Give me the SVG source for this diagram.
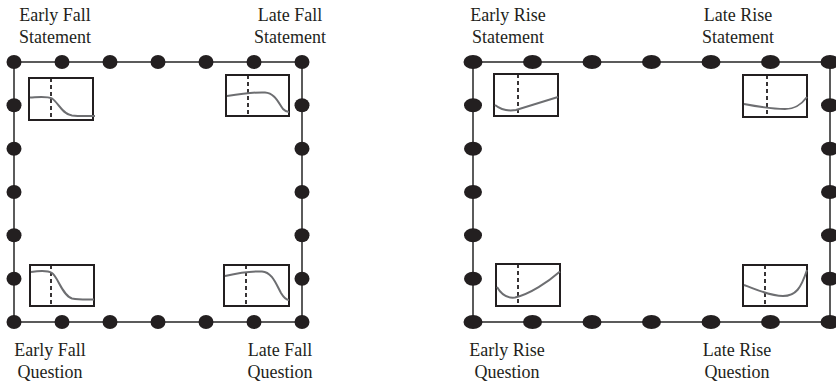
<svg xmlns="http://www.w3.org/2000/svg" width="836" height="383" viewBox="0 0 836 383">
<style>
.frame{fill:none;stroke:#333;stroke-width:1.6}
.dot{fill:#231f20}
.box{fill:#fff;stroke:#231f20;stroke-width:2}
.dash{stroke:#231f20;stroke-width:1.8;stroke-dasharray:4 3}
.curve{fill:none;stroke:#6d6e71;stroke-width:2}
text{font-family:"Liberation Serif","Times New Roman",serif;font-size:18px;fill:#231f20;text-anchor:middle}
</style>
<rect width="836" height="383" fill="#fff"/>
<g id="connectors">
<rect class="frame" x="14" y="62" width="288" height="260"/>
<rect class="frame" x="473" y="62" width="357" height="260"/>
</g>
<g id="frame-fall-dots">
<ellipse class="dot" cx="14" cy="62" rx="7.5" ry="7"/><ellipse class="dot" cx="62" cy="62" rx="7.5" ry="7"/><ellipse class="dot" cx="110" cy="62" rx="7.5" ry="7"/><ellipse class="dot" cx="158" cy="62" rx="7.5" ry="7"/><ellipse class="dot" cx="206" cy="62" rx="7.5" ry="7"/><ellipse class="dot" cx="254" cy="62" rx="7.5" ry="7"/><ellipse class="dot" cx="302" cy="62" rx="7.5" ry="7"/>
<ellipse class="dot" cx="14" cy="322" rx="7.5" ry="7"/><ellipse class="dot" cx="62" cy="322" rx="7.5" ry="7"/><ellipse class="dot" cx="110" cy="322" rx="7.5" ry="7"/><ellipse class="dot" cx="158" cy="322" rx="7.5" ry="7"/><ellipse class="dot" cx="206" cy="322" rx="7.5" ry="7"/><ellipse class="dot" cx="254" cy="322" rx="7.5" ry="7"/><ellipse class="dot" cx="302" cy="322" rx="7.5" ry="7"/>
<ellipse class="dot" cx="14" cy="105.3" rx="7.5" ry="7"/><ellipse class="dot" cx="14" cy="148.7" rx="7.5" ry="7"/><ellipse class="dot" cx="14" cy="192" rx="7.5" ry="7"/><ellipse class="dot" cx="14" cy="235.3" rx="7.5" ry="7"/><ellipse class="dot" cx="14" cy="278.7" rx="7.5" ry="7"/>
<ellipse class="dot" cx="302" cy="105.3" rx="7.5" ry="7"/><ellipse class="dot" cx="302" cy="148.7" rx="7.5" ry="7"/><ellipse class="dot" cx="302" cy="192" rx="7.5" ry="7"/><ellipse class="dot" cx="302" cy="235.3" rx="7.5" ry="7"/><ellipse class="dot" cx="302" cy="278.7" rx="7.5" ry="7"/>
</g>
<g id="frame-rise-dots">
<ellipse class="dot" cx="473" cy="62" rx="9.5" ry="7"/><ellipse class="dot" cx="532.5" cy="62" rx="9.5" ry="7"/><ellipse class="dot" cx="592" cy="62" rx="9.5" ry="7"/><ellipse class="dot" cx="651.5" cy="62" rx="9.5" ry="7"/><ellipse class="dot" cx="711" cy="62" rx="9.5" ry="7"/><ellipse class="dot" cx="770.5" cy="62" rx="9.5" ry="7"/><ellipse class="dot" cx="830" cy="62" rx="9.5" ry="7"/>
<ellipse class="dot" cx="473" cy="322" rx="9.5" ry="7"/><ellipse class="dot" cx="532.5" cy="322" rx="9.5" ry="7"/><ellipse class="dot" cx="592" cy="322" rx="9.5" ry="7"/><ellipse class="dot" cx="651.5" cy="322" rx="9.5" ry="7"/><ellipse class="dot" cx="711" cy="322" rx="9.5" ry="7"/><ellipse class="dot" cx="770.5" cy="322" rx="9.5" ry="7"/><ellipse class="dot" cx="830" cy="322" rx="9.5" ry="7"/>
<ellipse class="dot" cx="473" cy="105.3" rx="9" ry="7"/><ellipse class="dot" cx="473" cy="148.7" rx="9" ry="7"/><ellipse class="dot" cx="473" cy="192" rx="9" ry="7"/><ellipse class="dot" cx="473" cy="235.3" rx="9" ry="7"/><ellipse class="dot" cx="473" cy="278.7" rx="9" ry="7"/>
<ellipse class="dot" cx="830" cy="105.3" rx="9" ry="7"/><ellipse class="dot" cx="830" cy="148.7" rx="9" ry="7"/><ellipse class="dot" cx="830" cy="192" rx="9" ry="7"/><ellipse class="dot" cx="830" cy="235.3" rx="9" ry="7"/><ellipse class="dot" cx="830" cy="278.7" rx="9" ry="7"/>
</g>
<g id="early-fall-statement">
<rect class="box" x="29" y="78" width="64" height="42"/>
<line class="dash" x1="51" y1="78" x2="51" y2="120"/>
<path class="curve" d="M30,97.5 C40,97 47,96 52,98.5 C58,102 62,114 72,115.5 C80,116.5 88,116 95,116"/>
<text x="55" y="21">Early Fall</text><text x="55" y="43">Statement</text>
</g>
<g id="late-fall-statement">
<rect class="box" x="226" y="75" width="63" height="41"/>
<line class="dash" x1="248" y1="75" x2="248" y2="116"/>
<path class="curve" d="M227,96 C240,94 255,92 265,92.5 C275,93 279,104 283,109 C285,111 287,112 289,112"/>
<text x="290" y="21">Late Fall</text><text x="290" y="43">Statement</text>
</g>
<g id="early-fall-question">
<rect class="box" x="30" y="265" width="64" height="41"/>
<line class="dash" x1="51" y1="265" x2="51" y2="306"/>
<path class="curve" d="M31,272 C38,271 47,270 52,273 C58,277 62,295 72,298.5 C80,300 88,299.5 94,299.5"/>
<text x="50" y="356">Early Fall</text><text x="50" y="378">Question</text>
</g>
<g id="late-fall-question">
<rect class="box" x="224" y="265" width="65" height="41"/>
<line class="dash" x1="246" y1="265" x2="246" y2="306"/>
<path class="curve" d="M225,276 C238,273 250,271 262,271.5 C272,272 276,284 281,293 C284,298 286,300 289,300"/>
<text x="280" y="356">Late Fall</text><text x="280" y="378">Question</text>
</g>
<g id="early-rise-statement">
<rect class="box" x="494" y="74" width="64" height="42"/>
<line class="dash" x1="518" y1="74" x2="518" y2="116"/>
<path class="curve" d="M495,105 C500,109 507,111.5 516,110 L558,97"/>
<text x="508" y="21">Early Rise</text><text x="508" y="43">Statement</text>
</g>
<g id="late-rise-statement">
<rect class="box" x="743" y="75" width="64" height="42"/>
<line class="dash" x1="767" y1="75" x2="767" y2="117"/>
<path class="curve" d="M744,104 C760,107 772,109 785,109 C795,109 801,105 807,97"/>
<text x="738" y="21">Late Rise</text><text x="738" y="43">Statement</text>
</g>
<g id="early-rise-question">
<rect class="box" x="496" y="264" width="64" height="42"/>
<line class="dash" x1="518" y1="264" x2="518" y2="306"/>
<path class="curve" d="M497,287 C501,294 507,298.5 515,297.5 C530,294 548,282 560,271.5"/>
<text x="507" y="356">Early Rise</text><text x="507" y="378">Question</text>
</g>
<g id="late-rise-question">
<rect class="box" x="743" y="265" width="64" height="41"/>
<line class="dash" x1="765" y1="265" x2="765" y2="306"/>
<path class="curve" d="M744,285 C758,290 770,296 783,296 C796,296 801,288 807,270"/>
<text x="737" y="356">Late Rise</text><text x="737" y="378">Question</text>
</g>
</svg>
